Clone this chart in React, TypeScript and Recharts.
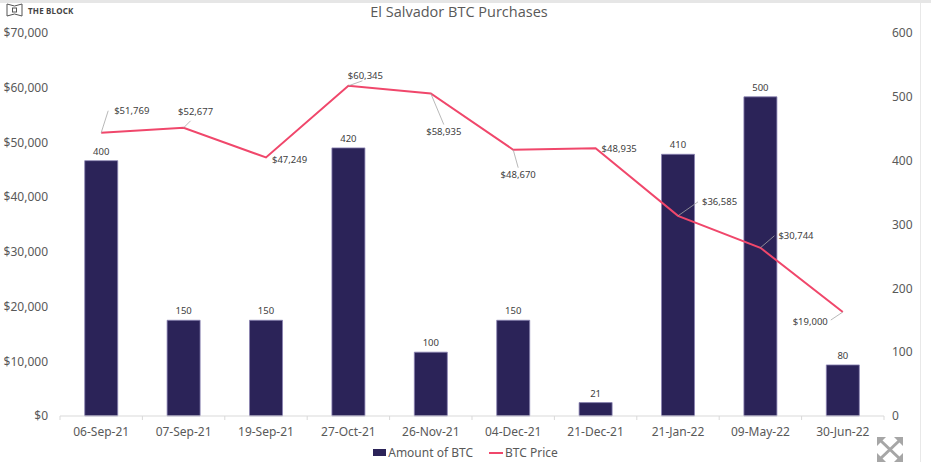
import React from "react";
import {
  ComposedChart, Bar, Line, XAxis, YAxis, Legend, LabelList,
} from "recharts";

// purchase dates
const DATES = [
  "06-Sep-21", "07-Sep-21", "19-Sep-21", "27-Oct-21", "26-Nov-21",
  "04-Dec-21", "21-Dec-21", "21-Jan-22", "09-May-22", "30-Jun-22",
];
const AMOUNT_BTC = [400, 150, 150, 420, 100, 150, 21, 410, 500, 80];
const BTC_PRICE = [51769, 52677, 47249, 60345, 58935, 48670, 48935, 36585, 30744, 19000];

const PRICE_TICKS = [0, 10000, 20000, 30000, 40000, 50000, 60000, 70000];
const AMOUNT_TICKS = [0, 100, 200, 300, 400, 500, 600];

const data = DATES.map((date, i) => ({
  date,
  amount: AMOUNT_BTC[i],
  price: BTC_PRICE[i],
}));

// where each price label sits relative to its point, and its leader line
const PRICE_LABEL_POS = [
  { dx: 13, dy: -22, anchor: "start", lead: [7, -22] },
  { dx: 12, dy: -16, anchor: "middle", lead: [7, -7] },
  { dx: 6, dy: 2, anchor: "start", lead: null },
  { dx: 17, dy: -10, anchor: "middle", lead: [14, -5] },
  { dx: 13, dy: 38, anchor: "middle", lead: [13, 31] },
  { dx: 5, dy: 25, anchor: "middle", lead: [5, 18] },
  { dx: 6, dy: 0, anchor: "start", lead: null },
  { dx: 24, dy: -14, anchor: "start", lead: [20, -14] },
  { dx: 18, dy: -12, anchor: "start", lead: [14, -12] },
  { dx: -15, dy: 9, anchor: "end", lead: [-12, 8] },
];

const W = 931;
const H = 462;
const LEFT_AXIS_W = 60;
const RIGHT_AXIS_W = 47;
const PLOT_BOTTOM = 416;
const BAND = (W - LEFT_AXIS_W - RIGHT_AXIS_W) / DATES.length;

const FONT = "'Noto Sans', sans-serif";
const BAR_COLOR = "#2b2358";
const LINE_COLOR = "#f0476b";
const AXIS_TEXT = "#595959";

const fmtPrice = (v: number) => "$" + v.toLocaleString("en-US");

const DateTick = (props: any) => {
  const { x, payload, index } = props;
  return (
    <g>
      {index === 0 && (
        <line x1={x - BAND / 2} x2={x - BAND / 2} y1={PLOT_BOTTOM} y2={PLOT_BOTTOM + 4} stroke="#d9d9d9" />
      )}
      <line x1={x + BAND / 2} x2={x + BAND / 2} y1={PLOT_BOTTOM} y2={PLOT_BOTTOM + 4} stroke="#d9d9d9" />
      <text x={x} y={PLOT_BOTTOM + 15} textAnchor="middle" dominantBaseline="central"
        fill={AXIS_TEXT} fontSize={12} fontFamily={FONT}>
        {payload.value}
      </text>
    </g>
  );
};

const PriceLabel = (props: any) => {
  const { x, y, value, index } = props;
  const p = PRICE_LABEL_POS[index];
  if (!p) return null;
  return (
    <g>
      {p.lead && (
        <line x1={x} y1={y} x2={x + p.lead[0]} y2={y + p.lead[1]} stroke="#a6a6a6" strokeWidth={0.8} />
      )}
      <text x={x + p.dx} y={y + p.dy} textAnchor={p.anchor} dominantBaseline="central"
        fill="#404040" fontSize={9.5} fontFamily={FONT}>
        {fmtPrice(value)}
      </text>
    </g>
  );
};

const LegendContent = () => (
  <div style={{ display: "flex", justifyContent: "center", alignItems: "center", gap: 16,
    fontFamily: FONT, fontSize: 12, color: AXIS_TEXT, paddingLeft: 0 }}>
    <span style={{ display: "flex", alignItems: "center" }}>
      <span style={{ width: 13, height: 7, background: BAR_COLOR, display: "inline-block", marginRight: 2 }} />
      Amount of BTC
    </span>
    <span style={{ display: "flex", alignItems: "center" }}>
      <span style={{ width: 14, height: 2, background: LINE_COLOR, display: "inline-block", marginRight: 2 }} />
      BTC Price
    </span>
  </div>
);

export default function App() {
  return (
    <div style={{ position: "absolute", left: 0, top: 0, width: W, height: H, background: "#fff", overflow: "hidden" }}>
      <div style={{ position: "absolute", left: 0, top: 0, width: W, height: 3, background: "#e6e6e6" }} />
      <div style={{ position: "absolute", left: 920, top: 3, width: 1, height: H, background: "#e8e8e8" }} />

      <div style={{ position: "absolute", left: 6, top: 3, display: "flex", alignItems: "center", gap: 5 }}>
        <svg width={17} height={14} viewBox="0 0 17 14">
          <path d="M1 1 L8.5 3 L16 1 L16 13 L8.5 11 L1 13 Z" fill="none" stroke="#555" strokeWidth={1} />
          <rect x={6.5} y={5} width={4} height={4} fill="none" stroke="#555" strokeWidth={1} />
        </svg>
        <span style={{ fontFamily: FONT, fontSize: 8, fontWeight: 700, color: "#444", letterSpacing: 0.2 }}>THE BLOCK</span>
      </div>

      <div style={{ position: "absolute", left: 0, top: 2, width: 918, textAlign: "center",
        fontFamily: "'Open Sans', sans-serif", fontSize: 14.5, color: AXIS_TEXT }}>
        El Salvador BTC Purchases
      </div>

      <ComposedChart width={W} height={H} data={data}
        margin={{ top: 33, right: 0, bottom: 0, left: 0 }} barCategoryGap="30%">
        <XAxis dataKey="date" height={28} axisLine={{ stroke: "#d9d9d9" }} tickLine={false}
          tick={<DateTick />} interval={0} />
        <YAxis yAxisId="left" orientation="left" width={LEFT_AXIS_W} domain={[0, 70000]}
          ticks={PRICE_TICKS} tickFormatter={fmtPrice} axisLine={false} tickLine={false}
          tick={{ fill: AXIS_TEXT, fontSize: 12, fontFamily: FONT, dx: -4 }} />
        <YAxis yAxisId="right" orientation="right" width={RIGHT_AXIS_W} domain={[0, 600]}
          ticks={AMOUNT_TICKS} axisLine={false} tickLine={false}
          tick={{ fill: AXIS_TEXT, fontSize: 12, fontFamily: FONT }} />
        <Legend verticalAlign="bottom" height={18} content={<LegendContent />} />
        <Bar yAxisId="right" dataKey="amount" name="Amount of BTC" fill={BAR_COLOR}
          stroke="#8a83b3" strokeWidth={0.8} isAnimationActive={false}>
          <LabelList dataKey="amount" position="top" offset={6} fill="#404040"
            fontSize={9.5} fontFamily={FONT} />
        </Bar>
        <Line yAxisId="left" dataKey="price" name="BTC Price" stroke={LINE_COLOR} strokeWidth={2}
          dot={false} activeDot={false} type="linear" isAnimationActive={false}>
          <LabelList dataKey="price" content={<PriceLabel />} />
        </Line>
      </ComposedChart>

      <svg style={{ position: "absolute", left: 877, top: 437 }} width={26} height={25} viewBox="0 0 26 25">
        <g stroke="#a6a6a6" strokeWidth={3} fill="none">
          <line x1={3} y1={3} x2={23} y2={22} />
          <line x1={23} y1={3} x2={3} y2={22} />
        </g>
        <g fill="#a6a6a6">
          <polygon points="0,0 9,0 0,9" />
          <polygon points="26,0 17,0 26,9" />
          <polygon points="0,25 9,25 0,16" />
          <polygon points="26,25 17,25 26,16" />
        </g>
      </svg>
    </div>
  );
}
